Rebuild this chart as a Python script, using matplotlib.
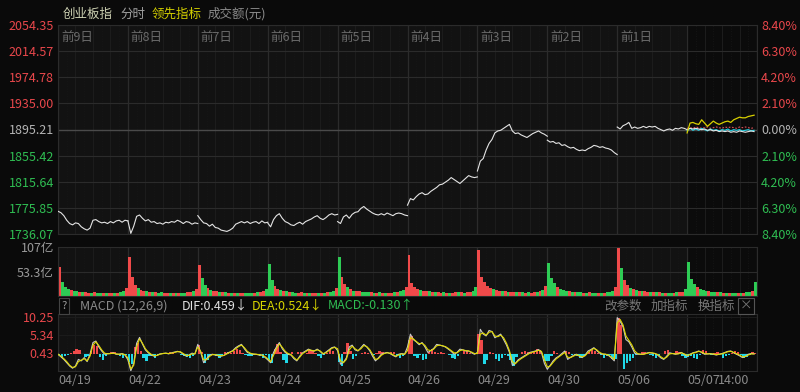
import matplotlib
matplotlib.use('Agg')
import matplotlib.pyplot as plt
import matplotlib.transforms as mtransforms
import numpy as np

plt.rcParams['font.family'] = ['Noto Sans CJK SC', 'DejaVu Sans']

# ---- data -------------------------------------------------------------
base_close = 1895.21
day_names = ['前9日', '前8日', '前7日', '前6日', '前5日', '前4日', '前3日', '前2日', '前1日']
dates = ['04/19', '04/22', '04/23', '04/24', '04/25', '04/26', '04/29', '04/30', '05/06', '05/07']

price_ticks = [2054.35, 2014.57, 1974.78, 1935.00, 1895.21, 1855.42, 1815.64, 1775.85, 1736.07]
price_labels = ['2054.35', '2014.57', '1974.78', '1935.00', '1895.21', '1855.42', '1815.64', '1775.85', '1736.07']
pct_labels = ['8.40%', '6.30%', '4.20%', '2.10%', '0.00%', '2.10%', '4.20%', '6.30%', '8.40%']

# close price every 10 minutes, one list per trading day
p_d1 = [1770.7, 1768.5, 1764, 1757, 1752, 1750, 1753, 1752, 1747, 1744, 1742, 1745, 1757,
        1758, 1755, 1753, 1754, 1752, 1755, 1753, 1756, 1757, 1754, 1757, 1756]
p_d2 = [1756, 1737, 1748, 1763, 1765, 1760, 1756, 1758, 1754, 1755, 1752, 1753, 1751,
        1754, 1753, 1755, 1754, 1757, 1755, 1752, 1755, 1754, 1751, 1753, 1752]
p_d3 = [1764, 1758, 1753, 1752, 1748, 1751, 1746, 1745, 1742, 1741, 1740, 1742, 1745,
        1751, 1753, 1755, 1753, 1755, 1752, 1754, 1755, 1752, 1756, 1753, 1754]
p_d4 = [1753, 1747, 1758, 1764, 1767, 1760, 1755, 1753, 1750, 1749, 1752, 1754, 1751,
        1755, 1757, 1759, 1762, 1764, 1760, 1758, 1761, 1765, 1767, 1765, 1766]
p_d5 = [1755, 1752, 1762, 1765, 1760, 1766, 1769, 1770, 1775, 1778, 1774, 1771, 1768,
        1766, 1765, 1767, 1765, 1768, 1766, 1764, 1767, 1768, 1767, 1765, 1764]
p_d6 = [1780, 1790, 1788, 1793, 1797, 1799, 1796, 1797, 1801, 1804, 1807, 1811, 1812,
        1815, 1818, 1822, 1819, 1816, 1813, 1817, 1821, 1825, 1823, 1822, 1823]
p_d7 = [1832, 1847, 1851, 1864, 1874, 1880, 1890, 1893, 1894, 1897, 1900, 1903, 1893,
        1889, 1890, 1887, 1885, 1883, 1886, 1889, 1891, 1893, 1890, 1888, 1885]
p_d8 = [1879, 1876, 1877, 1874, 1875, 1871, 1872, 1869, 1867, 1868, 1865, 1863, 1864,
        1863, 1866, 1868, 1871, 1870, 1868, 1869, 1867, 1866, 1864, 1860, 1857]
p_d9 = [1899, 1896, 1901, 1903, 1906, 1897, 1899, 1897, 1898, 1900, 1898, 1900, 1899,
        1900, 1897, 1895, 1893, 1895, 1896, 1894, 1897, 1896, 1898, 1897, 1895]
p_today = [1895, 1897, 1896, 1897, 1896, 1895, 1896, 1894, 1895, 1893, 1894, 1892,
           1893, 1892, 1893, 1891, 1892, 1891, 1893, 1892, 1891, 1892, 1893, 1892]
lead_today = [1890, 1905, 1906, 1904, 1903, 1910, 1905, 1900, 1904, 1908, 1905, 1903,
              1905, 1907, 1908, 1906, 1910, 1912, 1914, 1913, 1913, 1915, 1916, 1917]
avg_today = [1893, 1897, 1894, 1896, 1894, 1897, 1895, 1893, 1896, 1894, 1895, 1893,
             1895, 1894, 1896, 1893, 1895, 1894, 1895, 1893, 1894, 1895, 1893, 1894]
ref_today = [1897, 1898, 1897, 1899, 1898, 1897, 1898, 1899, 1897, 1898, 1899, 1898,
             1897, 1899, 1898, 1899, 1898, 1897, 1899, 1898, 1899, 1898, 1897, 1898]
price_days = [p_d1, p_d2, p_d3, p_d4, p_d5, p_d6, p_d7, p_d8, p_d9]

# turnover (亿元) every 10 minutes
v_d1 = [63, 30, 20, 16, 13, 11, 10, 9, 8, 8, 7, 7, 8, 7, 6, 7, 6, 6, 7, 6, 7, 8, 10, 17]
v_d2 = [85, 41, 25, 18, 14, 12, 10, 9, 9, 8, 7, 8, 7, 7, 6, 7, 6, 7, 6, 7, 8, 9, 11, 16]
v_d3 = [67, 39, 24, 17, 14, 12, 10, 9, 8, 9, 7, 7, 7, 6, 7, 6, 6, 7, 6, 7, 8, 9, 12, 15]
v_d4 = [70, 35, 22, 16, 13, 11, 10, 9, 8, 7, 7, 8, 7, 6, 6, 7, 6, 6, 7, 7, 8, 9, 11, 18]
v_d5 = [85, 41, 26, 19, 15, 12, 11, 10, 9, 8, 9, 8, 7, 7, 8, 7, 7, 6, 7, 8, 9, 10, 13, 20]
v_d6 = [89, 28, 20, 15, 13, 11, 10, 10, 9, 8, 8, 7, 8, 7, 7, 7, 8, 9, 8, 7, 8, 9, 12, 19]
v_d7 = [100, 41, 30, 22, 17, 15, 13, 12, 11, 10, 9, 9, 8, 8, 9, 8, 7, 8, 7, 8, 9, 10, 14, 22]
v_d8 = [72, 39, 28, 20, 16, 13, 11, 10, 9, 9, 8, 8, 7, 7, 8, 7, 6, 7, 6, 7, 8, 9, 12, 20]
v_d9 = [107, 61, 35, 24, 18, 15, 13, 12, 11, 10, 9, 9, 8, 8, 8, 7, 7, 7, 7, 7, 8, 8, 9, 16]
v_d10 = [74, 37, 26, 20, 16, 13, 12, 10, 9, 9, 8, 8, 7, 7, 7, 6, 6, 7, 6, 7, 8, 9, 12, 30]
vol_days = [v_d1, v_d2, v_d3, v_d4, v_d5, v_d6, v_d7, v_d8, v_d9, v_d10]
vol_sides = ['rgggrggrgrrgrggrgrrgrggr', 'rrrgrrgrgrggrrgrgrggrrgr', 'rggrgrrgrgrgrgrrgggrgrrg',
             'ggrrgrgrggrrgrgrrgrgrggr', 'grrgrgrrgggrgrgrgrrgrggr', 'rrrrgrrgrgrrgrgrrgrgrrgg',
             'rrrrrgrrgrgrrgrgrgrrgrgr', 'gggrgggrgrggrgrggrgrgggr', 'rgrrgrgrgrrgrgrgrggrgrrg',
             'gggrgggrggrgrgrggrgrggrg']

# MACD every 10 minutes
dif_days = [
    [0.0, -0.7, -1.4, -2.3, -3.2, -3.8, -3.2, -1.4, -1.8, -0.9, -2.0, 0.0, 3.2, 3.6, 2.0, 0.9, 0.0, 0.2, 0.2, 0.4, 0.0, 0.0, 0.2, -0.2],
    [-1.5, -4.5, -2.5, 3.0, 4.6, 2.8, 1.2, 0.4, -0.2, -0.5, -0.3, 0.1, 0.2, 0.3, 0.1, 0.4, 0.6, 0.8, 0.6, 0.0, -0.5, -0.2, 0.3, 0.1],
    [2.7, 0.5, -2.3, -1.2, -0.3, 0.0, -0.2, -0.4, -0.5, -0.3, 0.3, 0.6, 1.0, 1.8, 2.3, 2.7, 1.5, 0.5, 0.2, 0.0, 0.0, -0.2, -0.2, -0.8],
    [-1.5, -2.3, 0.5, 2.0, 3.2, 1.5, 0.5, 0.0, -0.2, -1.2, -1.8, -0.5, 0.4, 0.9, 1.4, 1.0, 0.9, 1.4, 0.8, 0.0, 0.6, 1.2, 1.8, 2.0],
    [1.0, -2.7, -2.2, -1.0, 2.0, 2.5, 1.2, 0.9, 1.8, 2.7, 2.0, 1.0, -0.5, -1.8, -1.0, 0.0, 0.3, 0.5, 0.2, -0.3, -0.7, 0.0, 0.2, 0.0],
    [2.0, 5.5, 4.0, 3.4, 2.6, 3.2, 2.0, 0.5, 1.0, 1.6, 2.7, 2.5, 2.3, 2.0, 1.4, 0.8, 0.0, 0.5, 1.4, 1.2, 0.9, 0.9, 0.4, 0.0],
    [0.5, 6.8, 5.5, 5.0, 6.5, 6.2, 4.5, 5.0, 5.5, 4.0, 2.5, 0.5, -3.0, -2.5, -1.5, -1.0, -0.5, 0.0, 0.5, 0.7, 0.9, 1.3, 0.5, -2.5],
    [-4.1, -3.0, -1.8, -1.0, -0.5, 0.2, 0.9, -1.4, -0.8, -0.3, 0.0, -0.5, -0.9, -0.2, 0.9, 1.3, 1.8, 1.0, 0.3, 0.0, 0.0, -0.3, -1.0, -1.8],
    [10.0, 9.0, 7.5, 4.0, 3.4, 2.0, 0.3, 0.0, 0.0, 0.0, 0.3, 0.5, 0.3, 0.2, -0.3, -1.0, -1.4, -0.5, 0.4, 0.2, 0.0, 0.2, 0.5, 0.0],
    [-0.5, 0.0, 0.4, 0.6, 0.9, 0.5, 0.0, 0.1, 0.2, 0.0, -0.2, 0.0, 0.2, 0.5, 0.8, 0.9, 0.4, 0.0, -0.4, -0.9, -0.6, 0.0, 0.2, 0.1],
]
dea_days = [
    [0.0, -0.5, -1.2, -2.0, -3.0, -3.6, -3.4, -2.0, -1.6, -1.2, -1.8, -0.5, 2.5, 3.4, 2.4, 1.2, 0.3, 0.1, 0.2, 0.3, 0.1, 0.0, 0.1, -0.1],
    [-1.0, -4.0, -3.0, 2.0, 4.2, 3.0, 1.5, 0.6, 0.0, -0.4, -0.3, 0.0, 0.2, 0.3, 0.2, 0.3, 0.5, 0.7, 0.7, 0.2, -0.3, -0.3, 0.1, 0.1],
    [2.0, 0.8, -1.5, -1.5, -0.6, -0.1, -0.1, -0.3, -0.4, -0.3, 0.1, 0.5, 0.9, 1.5, 2.1, 2.5, 1.8, 0.8, 0.3, 0.1, 0.0, -0.1, -0.2, -0.6],
    [-1.2, -2.0, -0.3, 1.5, 2.8, 1.9, 0.8, 0.2, -0.1, -0.9, -1.6, -0.8, 0.2, 0.7, 1.2, 1.1, 0.9, 1.2, 0.9, 0.2, 0.4, 1.0, 1.6, 1.9],
    [1.5, -1.8, -2.3, -1.4, 1.2, 2.2, 1.5, 1.0, 1.5, 2.4, 2.1, 1.3, 0.0, -1.4, -1.2, -0.3, 0.2, 0.4, 0.3, -0.1, -0.5, -0.2, 0.1, 0.0],
    [1.0, 4.5, 4.2, 3.5, 2.9, 3.0, 2.4, 1.2, 1.0, 1.4, 2.3, 2.5, 2.3, 2.1, 1.6, 1.0, 0.4, 0.4, 1.0, 1.2, 1.0, 0.9, 0.6, 0.2],
    [0.2, 5.5, 5.8, 5.2, 6.0, 6.2, 5.0, 4.8, 5.2, 4.5, 3.0, 1.0, -2.0, -2.6, -1.8, -1.2, -0.7, -0.2, 0.3, 0.6, 0.8, 1.1, 0.8, -1.5],
    [-3.5, -3.2, -2.2, -1.3, -0.7, -0.1, 0.5, -0.8, -0.9, -0.5, -0.1, -0.4, -0.7, -0.4, 0.5, 1.1, 1.6, 1.2, 0.5, 0.1, 0.0, -0.2, -0.7, -1.4],
    [8.5, 9.5, 8.0, 5.0, 3.8, 2.6, 0.9, 0.2, 0.0, 0.0, 0.2, 0.4, 0.4, 0.2, -0.1, -0.7, -1.2, -0.8, 0.1, 0.2, 0.1, 0.1, 0.4, 0.1],
    [-0.3, -0.1, 0.3, 0.5, 0.8, 0.6, 0.2, 0.1, 0.1, 0.1, -0.1, 0.0, 0.1, 0.4, 0.7, 0.8, 0.5, 0.1, -0.2, -0.7, -0.6, -0.2, 0.1, 0.1],
]
hist_days = [
    [-0.3, -0.9, -0.5, -0.2, 0.3, 0.8, 1.4, 1.2, 0.2, -0.7, -0.4, 1.0, 2.5, 2.2, -0.8, -1.6, -0.5, 0.2, 0.7, 0.6, 0.1, -0.5, -0.9, -0.2],
    [-2.0, -2.7, 2.0, 3.2, 1.0, -1.0, -1.8, -0.6, -0.5, -0.9, -0.3, 0.2, 0.3, 0.4, 0.7, 0.5, 0.2, 0.0, -0.2, -0.4, -0.7, -0.9, -0.4, 0.2],
    [2.5, 0.5, -2.5, -1.5, -0.3, 0.2, -0.5, -0.9, -0.2, 0.5, 0.7, 0.3, 0.8, 1.4, 1.2, 0.3, -0.2, -0.4, -0.5, -0.2, 0.1, -0.6, -0.9, -0.3],
    [-1.5, -2.3, 1.5, 2.7, 0.5, -1.5, -2.3, -0.3, 0.5, 0.2, 0.7, 0.6, 0.2, 0.4, 1.1, 0.9, 0.3, -0.5, -0.9, -0.2, 0.3, 1.1, 0.8, 0.2],
    [-2.0, -3.2, 0.5, 3.2, 1.0, -1.4, -0.6, 0.1, 0.4, 0.7, 0.3, 0.0, -0.2, 0.3, 0.9, 0.6, 0.1, 0.2, 0.5, 0.7, -0.5, -0.9, -0.4, 0.1],
    [4.0, 5.0, -0.6, -0.9, -0.3, -1.6, -1.2, 0.6, 1.4, 0.5, 0.4, 0.7, 0.3, 0.1, -0.3, -0.9, -1.4, -0.6, 0.2, 0.8, 0.9, 0.4, 0.2, 0.1],
    [5.5, 4.0, -2.7, -1.5, 0.5, 0.3, -1.2, -1.8, -1.0, -0.3, -0.6, -1.5, -3.2, -0.8, 0.2, 0.5, 0.9, 0.6, 0.3, 0.8, 1.4, 1.2, 0.2, -1.8],
    [-1.8, -0.5, 0.9, 0.3, 0.1, 0.4, 0.9, 0.6, -0.2, -0.3, -0.5, -0.9, -0.6, 0.1, 0.5, 1.1, 1.0, 0.4, -0.3, -0.9, -0.6, -0.3, -1.4, -1.2],
    [10.0, 8.0, -4.1, -2.5, -1.8, -1.0, -0.3, 0.2, 0.5, 0.7, 0.2, -0.2, -0.6, -0.9, -0.4, 0.1, 0.8, 1.1, 0.4, 0.3, 0.9, 0.5, -0.6, -0.9],
    [-0.7, -0.4, -1.0, -1.4, -0.2, 1.1, 0.8, 0.2, -0.1, 0.3, 0.7, 0.1, -0.9, -0.6, -0.1, 0.4, 0.9, 0.6, -0.3, -0.9, -0.8, -0.2, 0.5, 0.4],
]
macd_ticks = [10.25, 5.34, 0.43]
vol_ticks = [53.3, 107]
vol_labels = ['53.3亿', '107亿']

# ---- style ------------------------------------------------------------
BG = '#0a0a0a'
PANEL = '#121212'
TODAY = '#0b0b0b'
GRID = '#2b2b2b'
GRID_MINOR = '#1c1c1c'
RED = '#e8474b'
GREEN = '#2fbd52'
VRED = '#f04a4a'
VGREEN = '#2ecc55'
GREY = '#8a8a8a'
FS = 9
DAY = 240  # minutes per trading day

fig = plt.figure(figsize=(8, 3.92), dpi=100, facecolor=BG)
ax_p = fig.add_axes([58 / 800, 1 - 234 / 392, 699 / 800, 209 / 392])
ax_v = fig.add_axes([58 / 800, 1 - 296 / 392, 699 / 800, 49 / 392])
ax_m = fig.add_axes([58 / 800, 1 - 371 / 392, 699 / 800, 57 / 392])


def style_axis(ax):
    ax.set_facecolor(PANEL)
    ax.set_xlim(0, DAY * 10)
    ax.axvspan(DAY * 9, DAY * 10, color=TODAY, zorder=0)
    for m in range(0, DAY * 10 + 1, 30):
        if m % DAY == 0:
            ax.axvline(m, color=GRID, lw=0.9, zorder=0.5)
        elif m % 60 == 0:
            ax.axvline(m, color=GRID_MINOR, lw=0.8, zorder=0.5)
        else:
            ax.axvline(m, color='#171717', lw=0.6, ls=(0, (1, 2)), zorder=0.5)
    for s in ax.spines.values():
        s.set_color(GRID)
        s.set_linewidth(0.8)
    ax.tick_params(axis='both', length=0, labelsize=FS, pad=3)
    ax.set_xticks([])


for ax in (ax_p, ax_v, ax_m):
    style_axis(ax)

# ---- price panel ------------------------------------------------------
ax_p.set_ylim(price_ticks[-1], price_ticks[0])
for v in price_ticks:
    if abs(v - base_close) < 0.01:
        ax_p.axhline(v, color='#4a4a4a', lw=1.0, zorder=0.6)
    else:
        ax_p.axhline(v, color=GRID, lw=0.8, zorder=0.6)
ax_p.set_yticks(price_ticks)
ax_p.set_yticklabels(price_labels)
ax_r = ax_p.twinx()
ax_r.set_ylim(price_ticks[-1], price_ticks[0])
ax_r.set_yticks(price_ticks)
ax_r.set_yticklabels(pct_labels)
ax_r.tick_params(axis='y', length=0, labelsize=FS, pad=3)
for s in ax_r.spines.values():
    s.set_visible(False)
for lab_l, lab_r, v in zip(ax_p.get_yticklabels(), ax_r.get_yticklabels(), price_ticks):
    c = RED if v > base_close + 0.01 else (GREEN if v < base_close - 0.01 else '#b4b4b4')
    lab_l.set_color(c)
    lab_r.set_color(c)

for d, vals in enumerate(price_days):
    x = d * DAY + np.arange(len(vals)) * 10
    ax_p.plot(x, vals, color='#e4e4e4', lw=0.8, zorder=3)
x_today = DAY * 9 + np.arange(len(p_today)) * 10
ax_p.plot(x_today, ref_today, color='#e0505a', lw=0.8, ls=(0, (1.5, 1.5)), zorder=3)
ax_p.plot(x_today, avg_today, color='#22d3e6', lw=0.8, zorder=3)
ax_p.plot(x_today, p_today, color='#e4e4e4', lw=0.8, zorder=4)
ax_p.plot(x_today, lead_today, color='#d8d000', lw=0.9, zorder=4)

blend_p = mtransforms.blended_transform_factory(ax_p.transData, ax_p.transAxes)
for d, name in enumerate(day_names):
    ax_p.text(d * DAY + 10, (234 - 37) / 209, name, transform=blend_p, color='#6a6a6a',
              fontsize=FS, ha='left', va='center')

# ---- volume panel -----------------------------------------------------
ax_v.set_ylim(0, 107)
ax_v.axhline(53.3, color=GRID, lw=0.8, zorder=0.6)
for d, (vals, sides) in enumerate(zip(vol_days, vol_sides)):
    x = d * DAY + np.arange(len(vals)) * 10
    cols = [VRED if s == 'r' else VGREEN for s in sides]
    ax_v.bar(x, vals, width=10, align='edge', color=cols, linewidth=0, zorder=2)
ax_v.set_yticks(vol_ticks)
ax_v.set_yticklabels(vol_labels, color='#9a9a9a')

# ---- MACD panel -------------------------------------------------------
ax_m.set_ylim(-4.56, 10.98)
for v in macd_ticks:
    ax_m.axhline(v, color='#1c1c1c', lw=0.7, zorder=0.6)
hist = np.concatenate(hist_days)
dif = np.concatenate(dif_days)
dea = np.concatenate(dea_days)
xm = np.arange(len(dif)) * 10
ax_m.bar(xm, hist, width=8, align='edge', color=[VRED if h > 0 else '#1fd8e8' for h in hist],
         linewidth=0, zorder=2)
ax_m.plot(xm, dif, color='#c8c8c8', lw=0.8, zorder=3)
ax_m.plot(xm, dea, color='#e0d800', lw=0.8, zorder=4)
ax_m.set_yticks(macd_ticks)
ax_m.set_yticklabels([f'{t:.2f}' for t in macd_ticks], color=RED)

blend_m = mtransforms.blended_transform_factory(ax_m.transData, ax_m.transAxes)
for d, lab in enumerate(dates):
    ax_m.text(d * DAY + 1, (371 - 381) / 57, lab, transform=blend_m, color=GREY,
              fontsize=FS, ha='left', va='center')
ax_m.text(DAY * 9 + 106, (371 - 381) / 57, '14:00', transform=blend_m, color=GREY,
          fontsize=FS, ha='left', va='center')

# ---- header texts -----------------------------------------------------
ty = 1 - 14 / 392
fig.text(63 / 800, ty, '创业板指', color='#cfd3b4', fontsize=FS, va='center')
fig.text(120 / 800, ty, '分时', color='#a0a0a0', fontsize=FS, va='center')
fig.text(152 / 800, ty, '领先指标', color='#d4d000', fontsize=FS, va='center')
fig.text(208 / 800, ty, '成交额(元)', color=GREY, fontsize=FS, va='center')

my = 1 - 306 / 392
fig.text(64 / 800, my, '?', color='#9a9a9a', fontsize=FS - 1, va='center', ha='center',
         bbox=dict(boxstyle='square,pad=0.25', fc='none', ec='#444444', lw=0.8))
fig.text(80 / 800, my, 'MACD (12,26,9)', color=GREY, fontsize=FS, va='center')
fig.text(182 / 800, my, 'DIF:0.459↓', color='#e0e0e0', fontsize=FS, va='center')
fig.text(252 / 800, my, 'DEA:0.524↓', color='#d8d400', fontsize=FS, va='center')
fig.text(328 / 800, my, 'MACD:-0.130↑', color=GREEN, fontsize=FS, va='center')
fig.text(604 / 800, my, '改参数', color='#777777', fontsize=FS, va='center')
fig.text(651 / 800, my, '加指标', color='#777777', fontsize=FS, va='center')
fig.text(698 / 800, my, '换指标', color='#777777', fontsize=FS, va='center')
fig.text(746 / 800, my, '×', color='#777777', fontsize=FS, va='center', ha='center',
         bbox=dict(boxstyle='square,pad=0.15', fc='none', ec='#555555', lw=0.8))

fig.savefig('out.png', dpi=100, facecolor=BG)
